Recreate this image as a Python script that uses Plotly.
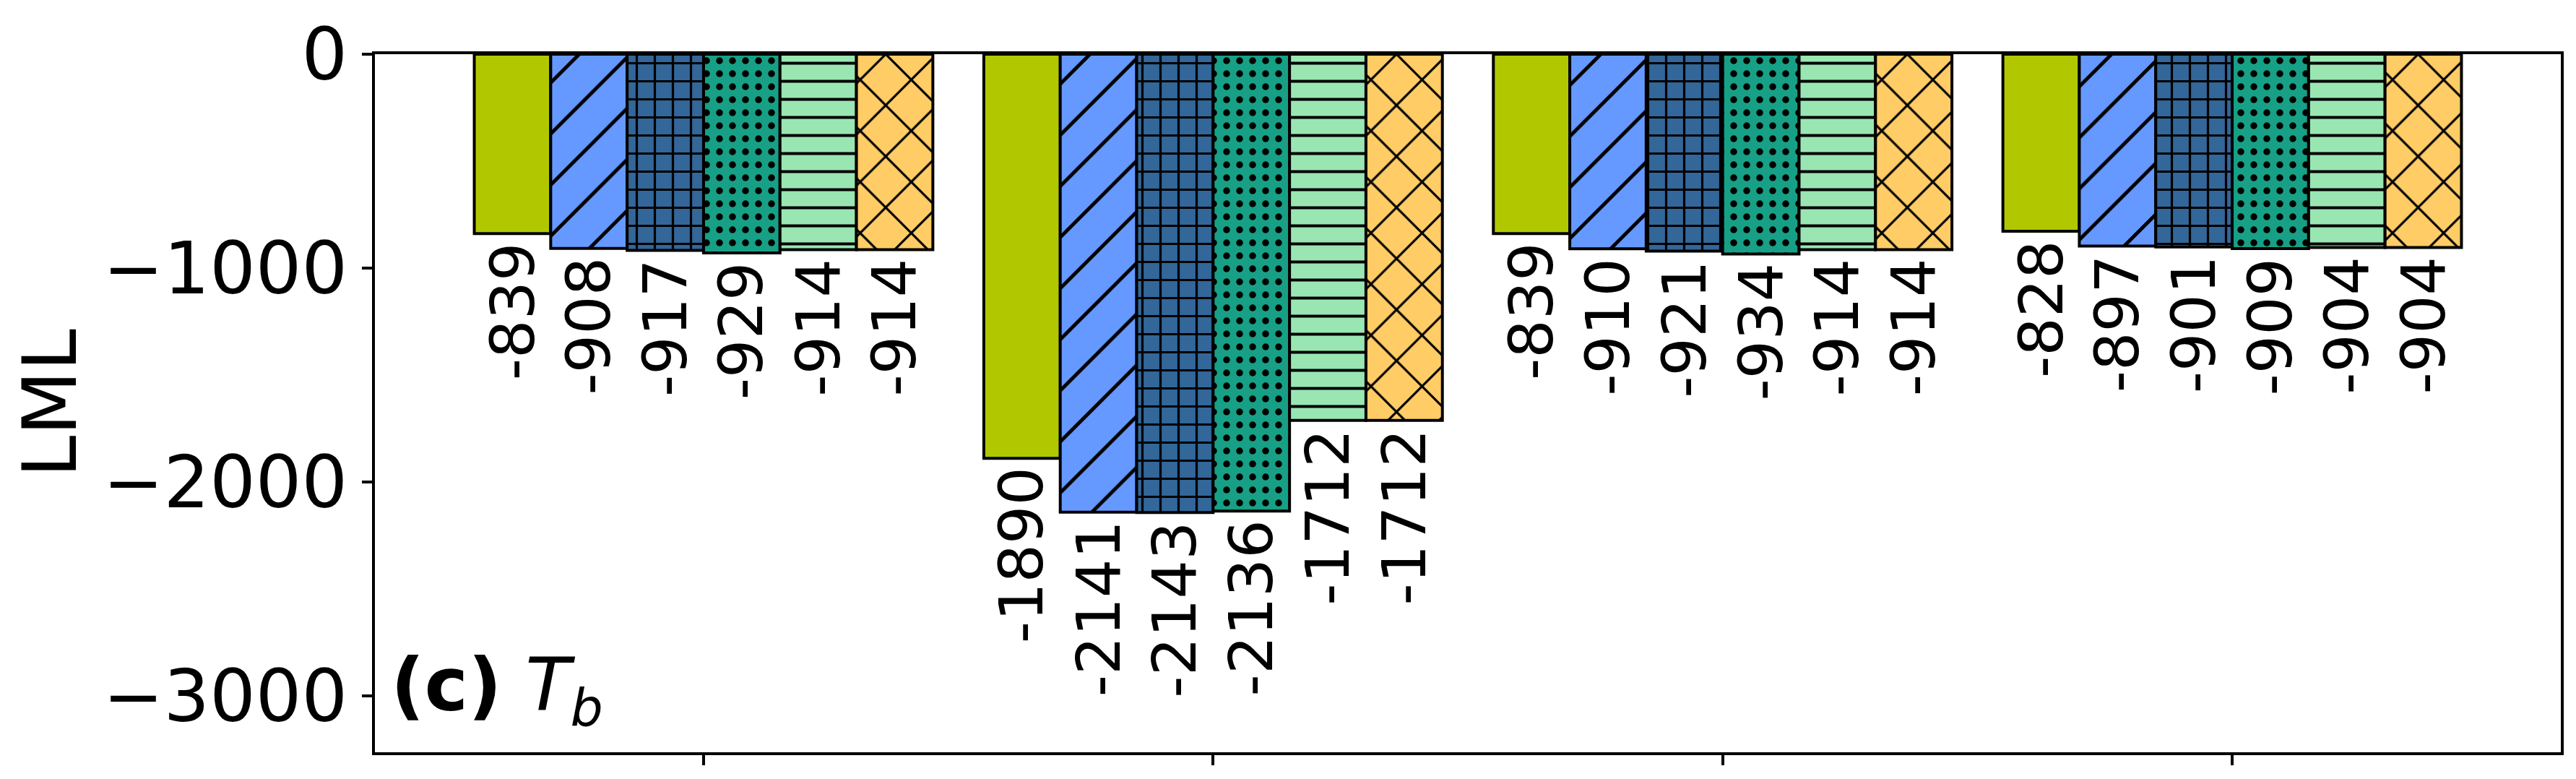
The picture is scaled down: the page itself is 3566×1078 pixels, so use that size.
import plotly.graph_objects as go

groups = [0, 1, 2, 3]
series_names = ["M1", "M2", "M3", "M4", "M5", "M6"]
values = [
    [-839, -1890, -839, -828],
    [-908, -2141, -910, -897],
    [-917, -2143, -921, -901],
    [-929, -2136, -934, -909],
    [-914, -1712, -914, -904],
    [-914, -1712, -914, -904],
]
colors = ["#b1c800", "#6699ff", "#336699", "#17a085", "#99e6b3", "#ffcc66"]
patterns = ["", "/", "+", ".", "-", "x"]
pattern_sizes = [10, 50, 25, 18, 25, 50]
pattern_solid = [0.0, 0.1, 0.24, 0.22, 0.16, 0.12]

ytick_vals = [0, -1000, -2000, -3000]
ytick_text = ["0", "\u22121000", "\u22122000", "\u22123000"]

FONT = "DejaVu Sans"
BAR_W = 0.15
N = len(series_names)

fig = go.Figure()
for i, name in enumerate(series_names):
    pat = dict(shape=patterns[i], fgcolor="black", bgcolor=colors[i],
               size=pattern_sizes[i], solidity=pattern_solid[i], fillmode="replace")
    fig.add_trace(go.Bar(
        x=groups, y=values[i], name=name,
        marker=dict(color=colors[i], line=dict(color="black", width=4), pattern=pat),
        showlegend=False,
    ))
    # value labels below each bar end, rotated like the reference
    off = (i - (N - 1) / 2) * BAR_W
    for g, v in zip(groups, values[i]):
        fig.add_annotation(
            x=g + off, y=v, xref="x", yref="y",
            text=str(v), textangle=-90, showarrow=False,
            xanchor="center", yanchor="top", yshift=-11, borderpad=0,
            font=dict(family=FONT, size=84, color="black"),
        )

fig.update_layout(
    barmode="group", bargap=1 - N * BAR_W, bargroupgap=0,
    width=3566, height=1078,
    margin=dict(l=511, r=29, t=67, b=45, autoexpand=False),
    paper_bgcolor="white", plot_bgcolor="white",
    font=dict(family=FONT, color="black"),
)
fig.update_xaxes(
    range=[-0.645, 3.645], tickvals=groups, showticklabels=False,
    ticks="outside", ticklen=14, tickwidth=3.5, tickcolor="black",
    showline=True, linecolor="black", linewidth=4, mirror=True,
    showgrid=False, zeroline=False, automargin=False,
)
fig.update_yaxes(
    range=[-3264, 0], tickvals=ytick_vals, ticktext=ytick_text,
    ticks="outside", ticklen=14, tickwidth=3.5, tickcolor="black",
    tickfont=dict(family=FONT, size=100, color="black"),
    title=dict(text="LML", font=dict(family=FONT, size=104, color="black"), standoff=38),
    showline=True, linecolor="black", linewidth=4, mirror=True,
    showgrid=False, zeroline=False, automargin=False,
)
fig.add_annotation(
    xref="paper", yref="paper", x=0.007, y=0.02, xanchor="left", yanchor="bottom",
    text="<b>(c)</b> <i>T</i><sub><i>b</i></sub>", showarrow=False, borderpad=0,
    font=dict(family=FONT, size=102, color="black"),
)

fig.write_html("out.html")
